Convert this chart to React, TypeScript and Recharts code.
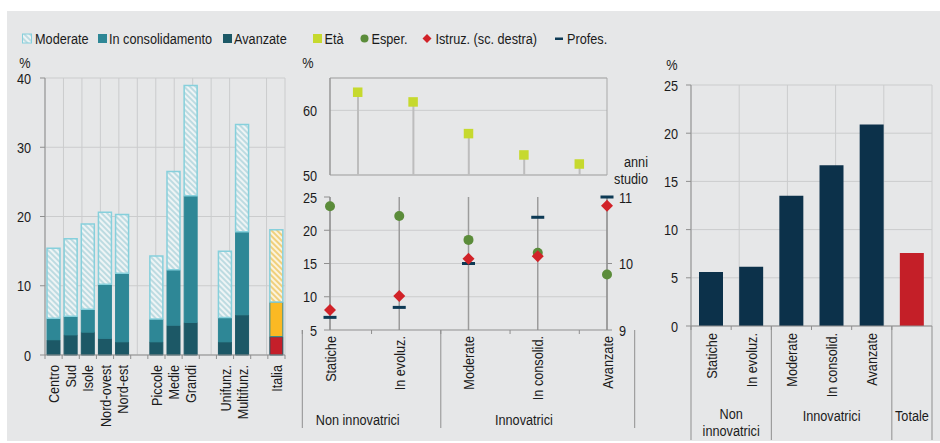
import React from 'react';
import {
  BarChart,
  Bar,
  ComposedChart,
  Line,
  XAxis,
  YAxis,
  CartesianGrid,
  Cell,
  ReferenceArea,
} from 'recharts';

const FONT = '"Liberation Sans", Arial, sans-serif';
const FS = 15.5;
const SX = 0.82;
const BG = '#e6e7e8';
const GRID = '#cbcccd';
const AXIS = '#8f8f8f';
const TEXT = '#1b1b1b';
const MOD_STROKE = '#86d0dc';
const CONS = '#2e8796';
const AV = '#1c5866';
const IT_CONS = '#fbb923';
const IT_AV = '#c41f2a';
const ETA_C = '#c6d92e';
const ESP_C = '#5b8c3a';
const IST_C = '#d12228';
const PROF_C = '#0d3a55';
const NAVY = '#0c314a';
const RED = '#c41f28';

// ---------- left panel data ----------
const leftCategories = [
  'Centro', 'Sud', 'Isole', 'Nord-ovest', 'Nord-est', '',
  'Piccole', 'Medie', 'Grandi', '',
  'Unifunz.', 'Multifunz.', '',
  'Italia',
];
const leftAvanzate = [2.2, 2.9, 3.3, 2.4, 1.9, null, 1.9, 4.3, 4.7, null, 1.9, 5.8, null, 2.65];
const leftConsolidamento = [3.1, 2.7, 3.3, 7.8, 9.9, null, 3.3, 8.0, 18.3, null, 3.5, 12.0, null, 5.0];
const leftModerate = [10.1, 11.2, 12.3, 10.4, 8.5, null, 9.1, 14.2, 15.9, null, 9.6, 15.5, null, 10.45];
const leftTicks = [0, 10, 20, 30, 40];
const highlightCategory = 'Italia';

// ---------- middle panel data ----------
const midCategories = ['Statiche', 'In evoluz.', 'Moderate', 'In consolid.', 'Avanzate'];
const eta = [62.8, 61.3, 56.4, 53.1, 51.7];
const esper = [23.6, 22.15, 18.55, 16.6, 13.35];
const istruz = [9.3, 9.51, 10.07, 10.11, 10.87];
const profes = [6.9, 8.4, 15.0, 21.95, 25.0];
const etaTicks = [50, 60];
const leftPctTicks = [5, 10, 15, 20, 25];
const anniTicks = [9, 10, 11];
const midGridValues = [10, 15, 20];

// ---------- right panel data ----------
const rightCategories = ['Statiche', 'In evoluz.', 'Moderate', 'In consolid.', 'Avanzate', 'Totale'];
const rightTickLabels = ['Statiche', 'In evoluz.', 'Moderate', 'In consolid.', 'Avanzate', ''];
const rightValues = [5.6, 6.15, 13.5, 16.67, 20.9, 7.57];
const rightTicks = [0, 5, 10, 15, 20, 25];
const totalCategory = 'Totale';

type Group = { lines: string[]; start: number; end: number };
const midGroups: Group[] = [
  { lines: ['Non innovatrici'], start: 0, end: 1 },
  { lines: ['Innovatrici'], start: 2, end: 4 },
];
const rightGroups: Group[] = [
  { lines: ['Non', 'innovatrici'], start: 0, end: 1 },
  { lines: ['Innovatrici'], start: 2, end: 4 },
  { lines: ['Totale'], start: 5, end: 5 },
];

const leftData = leftCategories.map((name, i) => ({
  id: `c${i}`,
  name,
  avanzate: leftAvanzate[i],
  consolidamento: leftConsolidamento[i],
  moderate: leftModerate[i],
}));
const midData = midCategories.map((name, i) => ({
  name,
  eta: eta[i],
  esper: esper[i],
  istruz: istruz[i],
  profes: profes[i],
}));
const rightData = rightCategories.map((name, i) => ({ name, value: rightValues[i] }));

const range = (n: number) => Array.from({ length: n + 1 }, (_, i) => i);

// Narrow text (Arial-Narrow-like) built from Liberation Sans scaled horizontally
function NText(props: {
  x: number;
  y: number;
  anchor?: 'start' | 'middle' | 'end';
  rotate?: number;
  dy?: number | string;
  children: React.ReactNode;
}) {
  const { x, y, anchor = 'start', rotate = 0, dy, children } = props;
  return (
    <text
      transform={`translate(${x},${y})${rotate ? ` rotate(${rotate})` : ''} scale(${SX},1)`}
      x={0}
      y={0}
      dy={dy}
      textAnchor={anchor}
      fontSize={FS}
      fontFamily={FONT}
      fill={TEXT}
    >
      {children}
    </text>
  );
}

function makeTick(
  labels: string[],
  gap: number,
  groups: Group[],
  sepLen: number,
  groupBaseline: number,
  lineStep: number
) {
  const TickComp = (props: any) => {
    const { x, y, index, width, visibleTicksCount } = props;
    const n = visibleTicksCount || labels.length;
    const slot = (typeof width === 'number' && width > 0 ? width : 0) / n;
    const label = labels[index] ?? '';
    const parts: React.ReactNode[] = [];
    parts.push(
      <line key="tl" x1={x - slot / 2} x2={x - slot / 2} y1={y} y2={y + 4} stroke={AXIS} />
    );
    if (index === n - 1) {
      parts.push(
        <line key="tr" x1={x + slot / 2} x2={x + slot / 2} y1={y} y2={y + (groups.length ? sepLen : 4)} stroke={AXIS} />
      );
    }
    groups.forEach((g, gi) => {
      if (g.start === index) {
        parts.push(
          <line key={`s${gi}`} x1={x - slot / 2} x2={x - slot / 2} y1={y} y2={y + sepLen} stroke={AXIS} />
        );
        const cx = x + ((g.end - g.start) * slot) / 2;
        const first = groupBaseline - (g.lines.length > 1 ? 2.5 : 0);
        g.lines.forEach((ln, li) =>
          parts.push(
            <NText key={`g${gi}-${li}`} x={cx} y={y + first + li * lineStep} anchor="middle">
              {ln}
            </NText>
          )
        );
      }
    });
    if (label) {
      parts.push(
        <NText key="lbl" x={x} y={y + gap} rotate={-90} anchor="end" dy="0.36em">
          {label}
        </NText>
      );
    }
    return <g>{parts}</g>;
  };
  return TickComp;
}

const LeftTick = makeTick(leftCategories, 10, [], 0, 0, 0);
const MidTick = makeTick(midCategories, 6, midGroups, 98, 95, 17.5);
const RightTick = makeTick(rightTickLabels, 7, rightGroups, 114, 95, 17.5);

const YTickLeft = (p: any) => (
  <NText x={p.x} y={p.y} anchor="end" dy="0.36em">
    {p.payload?.value}
  </NText>
);
const YTickRight = (p: any) => (
  <NText x={p.x} y={p.y} anchor="start" dy="0.36em">
    {p.payload?.value}
  </NText>
);

const SquareDot = (p: any) =>
  p.cx == null || p.cy == null ? <g key={p.key} /> : (
    <rect key={p.key} x={p.cx - 4.75} y={p.cy - 4.75} width={9.5} height={9.5} fill={ETA_C} />
  );
const CircleDot = (p: any) =>
  p.cx == null || p.cy == null ? <g key={p.key} /> : (
    <circle key={p.key} cx={p.cx} cy={p.cy} r={5} fill={ESP_C} />
  );
const DiamondDot = (p: any) =>
  p.cx == null || p.cy == null ? <g key={p.key} /> : (
    <polygon
      key={p.key}
      points={`${p.cx},${p.cy - 6} ${p.cx + 6},${p.cy} ${p.cx},${p.cy + 6} ${p.cx - 6},${p.cy}`}
      fill={IST_C}
    />
  );
const DashDot = (p: any) =>
  p.cx == null || p.cy == null ? <g key={p.key} /> : (
    <rect key={p.key} x={p.cx - 6.5} y={p.cy - 1.5} width={13} height={3} fill={PROF_C} />
  );

export default function App() {
  return (
    <div
      style={{
        position: 'fixed',
        left: 0,
        top: 0,
        width: 940,
        height: 443,
        background: '#ffffff',
        overflow: 'hidden',
        fontFamily: FONT,
      }}
    >
      <div style={{ position: 'absolute', left: 7, top: 11, width: 933, height: 430, background: BG }} />
      <svg width={940} height={443} style={{ position: 'absolute', left: 0, top: 0 }}>
        <defs>
          <pattern id="hatchCyan" patternUnits="userSpaceOnUse" width="4" height="4" patternTransform="rotate(-45)">
            <rect width="4" height="4" fill="#eef4f5" />
            <line x1="1" y1="0" x2="1" y2="4" stroke="#bddbe1" strokeWidth="2" />
          </pattern>
          <pattern id="hatchYellow" patternUnits="userSpaceOnUse" width="4" height="4" patternTransform="rotate(-45)">
            <rect width="4" height="4" fill="#fbf3dd" />
            <line x1="1" y1="0" x2="1" y2="4" stroke="#f0d07c" strokeWidth="2" />
          </pattern>
        </defs>
        {/* legend */}
        <rect x={22.5} y={34} width={9} height={9} fill="url(#hatchCyan)" stroke={MOD_STROKE} strokeWidth={1} />
        <NText x={35} y={43.5}>Moderate</NText>
        <rect x={98} y={34} width={9} height={9} fill={CONS} />
        <NText x={109} y={43.5}>In consolidamento</NText>
        <rect x={223} y={34} width={9} height={9} fill={AV} />
        <NText x={234} y={43.5}>Avanzate</NText>
        <rect x={313} y={34} width={9} height={9} fill={ETA_C} />
        <NText x={324.5} y={43.5}>Età</NText>
        <circle cx={364.5} cy={38.5} r={4} fill={ESP_C} />
        <NText x={371.5} y={43.5}>Esper.</NText>
        <polygon points="427,34 431.5,38.5 427,43 422.5,38.5" fill={IST_C} />
        <NText x={435.5} y={43.5}>Istruz. (sc. destra)</NText>
        <rect x={555} y={37.5} width={8} height={2.5} fill={PROF_C} />
        <NText x={567} y={43.5}>Profes.</NText>
        {/* unit labels */}
        <NText x={25} y={67.5} anchor="middle">%</NText>
        <NText x={308} y={67.5} anchor="middle">%</NText>
        <NText x={672} y={70} anchor="middle">%</NText>
        <NText x={648} y={166.5} anchor="end">anni</NText>
        <NText x={648} y={184} anchor="end">studio</NText>
      </svg>

      {/* LEFT PANEL */}
      <div style={{ position: 'absolute', left: 0, top: 0 }}>
        <BarChart
          width={300}
          height={443}
          data={leftData}
          margin={{ top: 78, right: 15, bottom: 0, left: 0 }}
          barSize={13}
        >
          <CartesianGrid xAxisId="grid" stroke={GRID} />
          <XAxis
            xAxisId="cat"
            dataKey="id"
            height={88}
            interval={0}
            tickLine={false}
            tickSize={0}
            tickMargin={0}
            axisLine={{ stroke: AXIS }}
            tick={<LeftTick />}
          />
          <XAxis xAxisId="grid" type="number" domain={[0, leftCategories.length]} ticks={range(leftCategories.length)} hide />
          <YAxis
            domain={[0, 40]}
            ticks={leftTicks}
            width={45}
            tickSize={5}
            tickMargin={9}
            axisLine={{ stroke: AXIS }}
            tickLine={{ stroke: AXIS }}
            tick={<YTickLeft />}
            interval={0}
          />
          <Bar xAxisId="cat" dataKey="avanzate" stackId="a" fill={AV} stroke={AV} strokeWidth={1} isAnimationActive={false}>
            {leftData.map((d, i) => (
              <Cell key={i} fill={d.name === highlightCategory ? IT_AV : AV} />
            ))}
          </Bar>
          <Bar xAxisId="cat" dataKey="consolidamento" stackId="a" fill={CONS} stroke={CONS} strokeWidth={1} isAnimationActive={false}>
            {leftData.map((d, i) => (
              <Cell key={i} fill={d.name === highlightCategory ? IT_CONS : CONS} />
            ))}
          </Bar>
          <Bar xAxisId="cat" dataKey="moderate" stackId="a" stroke={MOD_STROKE} strokeWidth={1.5} isAnimationActive={false}>
            {leftData.map((d, i) => (
              <Cell key={i} fill={d.name === highlightCategory ? 'url(#hatchYellow)' : 'url(#hatchCyan)'} />
            ))}
          </Bar>
        </BarChart>
      </div>

      {/* MIDDLE TOP PANEL (Età) */}
      <div style={{ position: 'absolute', left: 290, top: 0 }}>
        <ComposedChart width={360} height={192} data={midData} margin={{ top: 78, right: 43, bottom: 17, left: 0 }}>
          <CartesianGrid vertical={false} stroke={GRID} />
          <ReferenceArea y1={50} y2={65} fill="none" stroke="#a9a9a9" strokeWidth={1} fillOpacity={0} />
          <XAxis dataKey="name" hide />
          <YAxis
            domain={[50, 65]}
            ticks={etaTicks}
            width={40}
            tickSize={6}
            tickMargin={7}
            tickLine={false}
            axisLine={{ stroke: AXIS }}
            tick={<YTickLeft />}
            interval={0}
          />
          <Bar dataKey="eta" barSize={2} fill="#bdbdbd" isAnimationActive={false} />
          <Line dataKey="eta" stroke="none" dot={SquareDot} activeDot={false} isAnimationActive={false} />
        </ComposedChart>
      </div>

      {/* MIDDLE BOTTOM PANEL */}
      <div style={{ position: 'absolute', left: 290, top: 180 }}>
        <ComposedChart width={360} height={263} data={midData} margin={{ top: 17, right: 0, bottom: 0, left: 0 }}>
          <CartesianGrid vertical={false} horizontalValues={midGridValues} stroke={GRID} yAxisId="l" />
          <CartesianGrid horizontal={false} stroke="#9c9c9c" strokeWidth={1.5} yAxisId="l" />
          <XAxis
            dataKey="name"
            height={113}
            interval={0}
            tickLine={false}
            tickSize={0}
            tickMargin={0}
            axisLine={{ stroke: AXIS }}
            tick={<MidTick />}
          />
          <YAxis
            yAxisId="l"
            domain={[5, 25]}
            ticks={leftPctTicks}
            width={40}
            tickSize={6}
            tickMargin={7}
            axisLine={{ stroke: AXIS }}
            tickLine={{ stroke: AXIS }}
            tick={<YTickLeft />}
            interval={0}
          />
          <YAxis
            yAxisId="r"
            orientation="right"
            domain={[9, 11]}
            ticks={anniTicks}
            width={43}
            tickSize={5}
            tickMargin={7}
            axisLine={{ stroke: AXIS }}
            tickLine={{ stroke: AXIS }}
            tick={<YTickRight />}
            interval={0}
          />
          <Line yAxisId="l" dataKey="esper" stroke="none" dot={CircleDot} activeDot={false} isAnimationActive={false} />
          <Line yAxisId="l" dataKey="profes" stroke="none" dot={DashDot} activeDot={false} isAnimationActive={false} />
          <Line yAxisId="r" dataKey="istruz" stroke="none" dot={DiamondDot} activeDot={false} isAnimationActive={false} />
        </ComposedChart>
      </div>

      {/* RIGHT PANEL */}
      <div style={{ position: 'absolute', left: 640, top: 0 }}>
        <BarChart
          width={300}
          height={443}
          data={rightData}
          margin={{ top: 85, right: 8, bottom: 0, left: 0 }}
          barSize={24}
        >
          <CartesianGrid xAxisId="grid" stroke={GRID} />
          <XAxis
            xAxisId="cat"
            dataKey="name"
            height={117}
            interval={0}
            tickLine={false}
            tickSize={0}
            tickMargin={0}
            axisLine={{ stroke: AXIS }}
            tick={<RightTick />}
          />
          <XAxis xAxisId="grid" type="number" domain={[0, rightCategories.length]} ticks={range(rightCategories.length)} hide />
          <YAxis
            domain={[0, 25]}
            ticks={rightTicks}
            width={51}
            tickSize={5}
            tickMargin={8}
            axisLine={{ stroke: AXIS }}
            tickLine={{ stroke: AXIS }}
            tick={<YTickLeft />}
            interval={0}
          />
          <Bar xAxisId="cat" dataKey="value" fill={NAVY} isAnimationActive={false}>
            {rightData.map((d, i) => (
              <Cell key={i} fill={d.name === totalCategory ? RED : NAVY} />
            ))}
          </Bar>
        </BarChart>
      </div>
    </div>
  );
}
